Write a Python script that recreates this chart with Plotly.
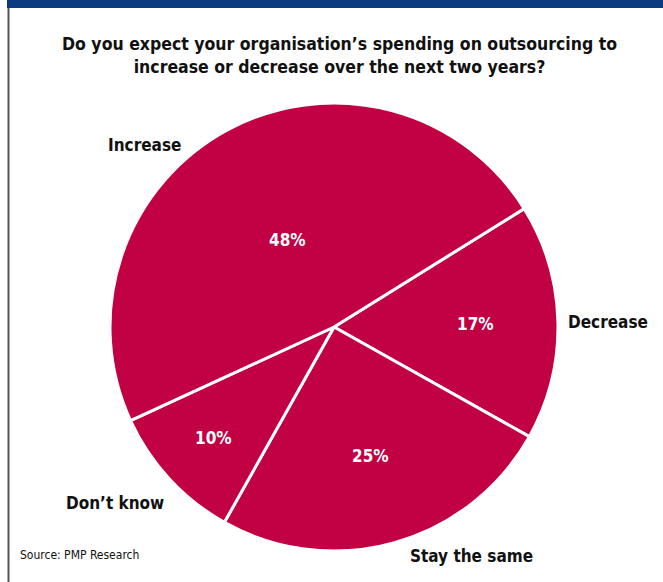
import math
import plotly.graph_objects as go

# Survey answers, listed clockwise starting from the "Decrease" wedge
labels = ["Decrease", "Stay the same", "Don\u2019t know", "Increase"]
values = [17, 25, 10, 48]

W, H = 663, 582
CX, CY, R = 334, 327, 224          # pie centre and radius in pixels
START_DEG = 58.1                   # clockwise from 12 o'clock to first wedge edge

# radial placement (as fraction of radius) for the percentage text of each wedge
pct_r = [0.63, 0.60, 0.73, 0.44]
# pixel centres of the category names outside the pie
name_xy = [(608, 322), (471, 556), (115, 503), (144, 145)]

FONT = "DejaVu Sans Condensed, Liberation Sans, Arial, sans-serif"
RED = "#c20044"

fig = go.Figure(go.Pie(
    labels=labels,
    values=values,
    sort=False,
    direction="clockwise",
    rotation=START_DEG,
    marker=dict(colors=[RED] * len(values), line=dict(color="white", width=3)),
    textinfo="none",
    hoverinfo="label+percent",
    domain=dict(x=[(CX - R) / W, (CX + R) / W], y=[1 - (CY + R) / H, 1 - (CY - R) / H]),
    showlegend=False,
))


def note(x, y, text, size, color="#111111", **kw):
    d = dict(x=x / W, y=1 - y / H, xref="paper", yref="paper", text=text,
             showarrow=False, xanchor="center", yanchor="middle",
             font=dict(family=FONT, size=size, color=color))
    d.update(kw)
    return d


annotations = []
total = sum(values)
acc = 0.0
for i, (lab, v) in enumerate(zip(labels, values)):
    a0 = START_DEG + 360 * acc / total
    a1 = START_DEG + 360 * (acc + v) / total
    th = math.radians((a0 + a1) / 2)
    px = CX + pct_r[i] * R * math.sin(th)
    py = CY - pct_r[i] * R * math.cos(th)
    annotations.append(note(px, py, f"<b>{round(100 * v / total)}%</b>", 17, "white"))
    nx, ny = name_xy[i]
    annotations.append(note(nx, ny, f"<b>{lab}</b>", 17))
    acc += v

annotations.append(note(
    339, 55,
    "<b>Do you expect your organisation\u2019s spending on outsourcing to<br>"
    "increase or decrease over the next two years?</b>",
    17.5, align="center"))
annotations.append(note(18, 555, "Source: PMP Research", 12, xanchor="left"))

fig.update_layout(
    width=W, height=H,
    margin=dict(l=0, r=0, t=0, b=0),
    paper_bgcolor="white",
    plot_bgcolor="white",
    annotations=annotations,
    shapes=[
        dict(type="rect", xref="paper", yref="paper",
             x0=7 / W, x1=1, y0=1 - 8 / H, y1=1,
             fillcolor="#0c3a80", line=dict(width=0)),
        dict(type="line", xref="paper", yref="paper",
             x0=8.5 / W, x1=8.5 / W, y0=0, y1=1 - 8 / H,
             line=dict(color="#555555", width=2)),
    ],
)

fig.write_html("out.html")
